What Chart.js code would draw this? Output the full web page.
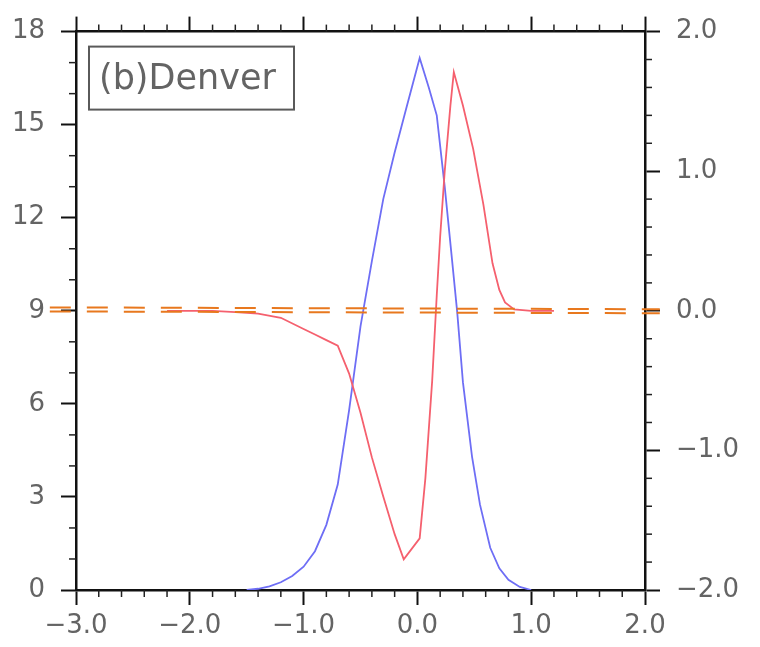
<!DOCTYPE html>
<html>
<head>
<meta charset="utf-8">
<script src="https://cdn.jsdelivr.net/npm/chart.js@4.4.0/dist/chart.umd.min.js"></script>
<style>
  html, body { margin: 0; padding: 0; background: #fff; }
</style>
</head>
<body>
<canvas id="graph" width="760" height="647"></canvas>
<script>
// datos
var blueX = [-1.5, -1.4, -1.3, -1.2, -1.1, -1.0, -0.9, -0.8, -0.7, -0.6, -0.5, -0.4, -0.3, -0.2, -0.1, 0.02, 0.1, 0.17, 0.24, 0.3, 0.35, 0.4, 0.48, 0.55, 0.64, 0.72, 0.8, 0.9, 1.0];
var blueY = [0, 0.04, 0.12, 0.25, 0.45, 0.75, 1.25, 2.1, 3.4, 5.8, 8.5, 10.6, 12.6, 14.1, 15.5, 17.15, 16.2, 15.3, 13.0, 10.8, 8.95, 6.7, 4.3, 2.75, 1.36, 0.7, 0.33, 0.1, 0];

var redX = [-2.2, -2.0, -1.8, -1.6, -1.4, -1.2, -1.0, -0.9, -0.8, -0.7, -0.6, -0.5, -0.4, -0.3, -0.2, -0.12, 0.02, 0.07, 0.13, 0.17, 0.2, 0.24, 0.29, 0.32, 0.4, 0.49, 0.58, 0.66, 0.72, 0.77, 0.85, 1.0, 1.2];
var redY = [0, 0, 0, -0.01, -0.02, -0.05, -0.13, -0.17, -0.21, -0.25, -0.45, -0.73, -1.05, -1.33, -1.6, -1.78, -1.63, -1.2, -0.5, 0.11, 0.53, 1.0, 1.47, 1.71, 1.47, 1.16, 0.76, 0.34, 0.15, 0.06, 0.01, 0, 0];

// dos lineas de referencia discontinuas
var refX = [-3.23, 2.13];
var refUpperY = [9.11, 9.05];
var refLowerY = [8.98, 8.92];

var xRange = [-3, 2];
var leftRange = [0, 18];
var rightRange = [-2, 2];
var panelLabel = "(b)Denver";

function pts(xs, ys) {
    return xs.map(function(x, i) { return { x: x, y: ys[i] }; });
}

function conMenos(v, dec) {
    return v.toFixed(dec).replace("-", "\u2212");
}

var tickFont = { family: "DejaVu Sans", size: 26 };
var gris = "#646464";

// marcas menores de los ejes
var marcasMenores = {
    id: "marcasMenores",
    afterDraw: function(chart) {
        var ctx = chart.ctx, a = chart.chartArea, s = chart.scales;
        var len = 7;
        ctx.save();
        ctx.strokeStyle = "#222";
        ctx.lineWidth = 1.5;
        function linea(x1, y1, x2, y2) {
            ctx.beginPath(); ctx.moveTo(x1, y1); ctx.lineTo(x2, y2); ctx.stroke();
        }
        for (var i = -15; i <= 10; i++) {
            if (i % 5 === 0) continue;
            var px = s.x.getPixelForValue(i / 5);
            linea(px, a.bottom, px, a.bottom + len);
            linea(px, a.top, px, a.top - len);
        }
        for (var j = 0; j <= 18; j++) {
            if (j % 3 === 0) continue;
            var py = s.y.getPixelForValue(j);
            linea(a.left, py, a.left - len, py);
        }
        for (var k = -10; k <= 10; k++) {
            if (k % 5 === 0) continue;
            var py2 = s.y2.getPixelForValue(k / 5);
            linea(a.right, py2, a.right + len, py2);
        }
        ctx.restore();
    }
};

// recuadro con el nombre del panel
var recuadro = {
    id: "recuadro",
    afterDraw: function(chart) {
        var ctx = chart.ctx, a = chart.chartArea;
        ctx.save();
        ctx.strokeStyle = "#5a5a5a";
        ctx.lineWidth = 2;
        ctx.strokeRect(a.left + 13, a.top + 15, 205, 63);
        ctx.fillStyle = "#646464";
        ctx.font = "35px 'DejaVu Sans'";
        ctx.textBaseline = "middle";
        ctx.fillText(panelLabel, a.left + 23, a.top + 48);
        ctx.restore();
    }
};

var ejeGrid = {
    drawOnChartArea: false,
    drawTicks: true,
    tickLength: 15,
    tickColor: "#111",
    tickWidth: 2
};
var ejeBorde = { display: true, color: "#111", width: 2.5 };

var grafico = document.getElementById("graph").getContext("2d");

var chart = new Chart(grafico, {
    type: "line",
    data: {
        datasets: [
            {
                data: pts(refX, refUpperY),
                yAxisID: "y",
                borderColor: "#e8781e",
                borderWidth: 2,
                borderDash: [21, 16],
                pointRadius: 0,
                clip: false
            },
            {
                data: pts(refX, refLowerY),
                yAxisID: "y",
                borderColor: "#e8781e",
                borderWidth: 2,
                borderDash: [21, 16],
                pointRadius: 0,
                clip: false
            },
            {
                data: pts(redX, redY),
                yAxisID: "y2",
                borderColor: "#f5606e",
                borderWidth: 1.8,
                pointRadius: 0,
                tension: 0
            },
            {
                data: pts(blueX, blueY),
                yAxisID: "y",
                borderColor: "#6e6ef5",
                borderWidth: 1.8,
                pointRadius: 0,
                tension: 0
            }
        ]
    },
    options: {
        responsive: false,
        animation: false,
        layout: { padding: 0 },
        plugins: { legend: { display: false }, tooltip: { enabled: false } },
        scales: {
            x: {
                type: "linear",
                position: "bottom",
                min: xRange[0], max: xRange[1],
                grid: ejeGrid,
                border: ejeBorde,
                ticks: {
                    stepSize: 1, autoSkip: false, maxRotation: 0,
                    font: tickFont, color: gris, padding: 6,
                    callback: function(v) { return conMenos(v, 1); }
                },
                afterFit: function(s) { s.height = 57; }
            },
            x2: {
                type: "linear",
                position: "top",
                min: xRange[0], max: xRange[1],
                grid: ejeGrid,
                border: ejeBorde,
                ticks: { stepSize: 1, display: false },
                afterFit: function(s) { s.height = 21; }
            },
            y: {
                position: "left",
                min: leftRange[0], max: leftRange[1],
                grid: ejeGrid,
                border: ejeBorde,
                ticks: {
                    stepSize: 3, font: tickFont, color: gris, padding: 16,
                    callback: function(v) { return String(v); }
                },
                afterFit: function(s) { s.width = 76; }
            },
            y2: {
                position: "right",
                min: rightRange[0], max: rightRange[1],
                grid: ejeGrid,
                border: ejeBorde,
                ticks: {
                    stepSize: 1, font: tickFont, color: gris, padding: 16,
                    callback: function(v) { return conMenos(v, 1); }
                },
                afterFit: function(s) { s.width = 115; }
            }
        }
    },
    plugins: [marcasMenores, recuadro]
});
</script>
</body>
</html>
